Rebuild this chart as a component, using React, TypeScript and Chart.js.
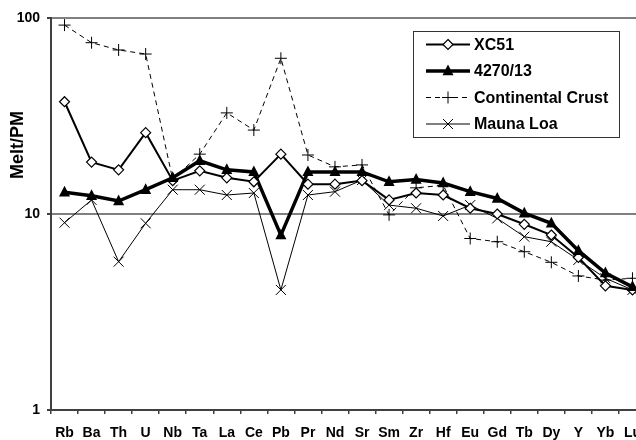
import React, { useEffect, useRef } from 'react';
import { Chart, registerables } from 'chart.js';

Chart.register(...registerables);

const categories = ['Rb', 'Ba', 'Th', 'U', 'Nb', 'Ta', 'La', 'Ce', 'Pb', 'Pr', 'Nd', 'Sr', 'Sm', 'Zr', 'Hf', 'Eu', 'Gd', 'Tb', 'Dy', 'Y', 'Yb', 'Lu'];

const xc51 = [37.4, 18.4, 16.8, 26.0, 14.8, 16.6, 15.3, 14.6, 20.2, 14.2, 14.2, 14.8, 11.8, 12.8, 12.5, 10.7, 10.0, 8.86, 7.81, 6.0, 4.3, 4.1];
const s4270 = [12.9, 12.4, 11.65, 13.3, 15.3, 18.7, 16.8, 16.4, 7.8, 16.4, 16.4, 16.4, 14.6, 15.0, 14.4, 13.0, 12.0, 10.1, 8.97, 6.5, 5.0, 4.25];
const crust = [92, 74.8, 68.7, 65.5, 15.0, 20.2, 32.8, 26.8, 62.3, 20.0, 17.4, 17.8, 9.9, 13.6, 14.0, 7.5, 7.22, 6.42, 5.67, 4.83, 4.6, 4.7];
const maunaLoa = [9.03, 11.8, 5.71, 8.97, 13.3, 13.3, 12.5, 12.8, 4.1, 12.5, 13.0, 14.9, 11.1, 10.7, 9.77, 11.1, 9.5, 7.66, 7.22, 5.83, 4.7, 4.1];

const yTickValues = [1, 10, 100];
const seriesNames = ['XC51', '4270/13', 'Continental Crust', 'Mauna Loa'];
const yTitle = 'Melt/PM';

const FONT = "'Liberation Sans', Arial, Helvetica, sans-serif";

type MarkerKind = 'diamond' | 'triangle' | 'plus' | 'x';

function drawMarker(ctx: CanvasRenderingContext2D, kind: MarkerKind, x: number, y: number) {
  ctx.save();
  ctx.setLineDash([]);
  ctx.strokeStyle = '#000';
  ctx.beginPath();
  if (kind === 'diamond') {
    const r = 5;
    ctx.moveTo(x, y - r);
    ctx.lineTo(x + r, y);
    ctx.lineTo(x, y + r);
    ctx.lineTo(x - r, y);
    ctx.closePath();
    ctx.fillStyle = '#fff';
    ctx.fill();
    ctx.lineWidth = 1.2;
    ctx.stroke();
  } else if (kind === 'triangle') {
    const r = 6.5;
    ctx.moveTo(x, y - r);
    ctx.lineTo(x + r * 0.85, y + r * 0.65);
    ctx.lineTo(x - r * 0.85, y + r * 0.65);
    ctx.closePath();
    ctx.fillStyle = '#000';
    ctx.fill();
  } else if (kind === 'plus') {
    const r = 6;
    ctx.moveTo(x - r, y);
    ctx.lineTo(x + r, y);
    ctx.moveTo(x, y - r);
    ctx.lineTo(x, y + r);
    ctx.lineWidth = 1;
    ctx.stroke();
  } else {
    const r = 5;
    ctx.moveTo(x - r, y - r);
    ctx.lineTo(x + r, y + r);
    ctx.moveTo(x + r, y - r);
    ctx.lineTo(x - r, y + r);
    ctx.lineWidth = 1;
    ctx.stroke();
  }
  ctx.restore();
}

const legendPlugin = {
  id: 'customLegend',
  afterDraw(chart: any) {
    const ctx: CanvasRenderingContext2D = chart.ctx;
    ctx.save();
    const bx = 413.5, by = 31.5, bw = 206, bh = 106;
    ctx.fillStyle = '#fff';
    ctx.fillRect(bx, by, bw, bh);
    ctx.strokeStyle = '#333';
    ctx.lineWidth = 1;
    ctx.strokeRect(bx, by, bw, bh);
    const rows = [44.5, 71, 97.5, 124];
    const kinds: MarkerKind[] = ['diamond', 'triangle', 'plus', 'x'];
    const widths = [2, 3.5, 1, 1];
    const dashes = [[], [], [5, 4], []];
    rows.forEach((ry, i) => {
      ctx.save();
      ctx.strokeStyle = '#000';
      ctx.lineWidth = widths[i];
      ctx.setLineDash(dashes[i]);
      ctx.beginPath();
      ctx.moveTo(426, ry);
      ctx.lineTo(470, ry);
      ctx.stroke();
      ctx.restore();
      drawMarker(ctx, kinds[i], 448, ry);
      ctx.fillStyle = '#000';
      ctx.font = `bold 16px ${FONT}`;
      ctx.textBaseline = 'middle';
      ctx.textAlign = 'left';
      ctx.fillText(seriesNames[i], 474, ry + 1);
    });
    // y axis title
    ctx.save();
    ctx.translate(18, 145);
    ctx.rotate(-Math.PI / 2);
    ctx.font = `bold 18px ${FONT}`;
    ctx.textAlign = 'center';
    ctx.textBaseline = 'middle';
    ctx.fillStyle = '#000';
    ctx.fillText(yTitle, 0, 0);
    ctx.restore();
    ctx.restore();
  },
};

const markerPlugin = {
  id: 'customMarkers',
  afterDatasetsDraw(chart: any) {
    const ctx: CanvasRenderingContext2D = chart.ctx;
    const kinds: MarkerKind[] = ['diamond', 'triangle', 'plus', 'x'];
    const drawOrder = [3, 2, 0, 1];
    drawOrder.forEach((di) => {
      const meta = chart.getDatasetMeta(di);
      meta.data.forEach((pt: any) => {
        drawMarker(ctx, kinds[di], pt.x, pt.y);
      });
    });
  },
};

export default function App() {
  const ref = useRef<HTMLCanvasElement | null>(null);

  useEffect(() => {
    if (!ref.current) return;
    const chart = new Chart(ref.current, {
      type: 'line',
      data: {
        labels: categories,
        datasets: [
          {
            label: seriesNames[0],
            data: xc51,
            borderColor: '#000',
            borderWidth: 2,
            pointRadius: 0,
            tension: 0,
            order: 2,
          },
          {
            label: seriesNames[1],
            data: s4270,
            borderColor: '#000',
            borderWidth: 3.5,
            pointRadius: 0,
            tension: 0,
            order: 1,
          },
          {
            label: seriesNames[2],
            data: crust,
            borderColor: '#000',
            borderWidth: 1,
            borderDash: [5, 4],
            pointRadius: 0,
            tension: 0,
            order: 3,
          },
          {
            label: seriesNames[3],
            data: maunaLoa,
            borderColor: '#000',
            borderWidth: 1,
            pointRadius: 0,
            tension: 0,
            order: 4,
          },
        ],
      },
      options: {
        animation: false,
        responsive: false,
        devicePixelRatio: 1,
        layout: { padding: { top: 18, right: 14, left: 0, bottom: 0 } },
        plugins: {
          legend: { display: false },
          tooltip: { enabled: false },
          title: { display: false },
        },
        scales: {
          x: {
            type: 'category',
            offset: true,
            grid: {
              offset: true,
              drawOnChartArea: false,
              color: '#404040',
              lineWidth: 1.5,
              tickLength: 4,
            },
            border: { color: '#404040', width: 2 },
            ticks: {
              color: '#000',
              font: { family: FONT, size: 14, weight: 'bold' },
              padding: 11,
              maxRotation: 0,
              autoSkip: false,
            },
            afterFit: (s: any) => {
              s.height = 30;
            },
          },
          y: {
            type: 'logarithmic',
            min: 1,
            max: 100,
            afterBuildTicks: (s: any) => {
              s.ticks = yTickValues.map((v) => ({ value: v }));
            },
            ticks: {
              color: '#000',
              font: { family: FONT, size: 14, weight: 'bold' },
              padding: 7,
              callback: (v: any) => String(v),
            },
            grid: {
              color: '#808080',
              lineWidth: 2,
              tickLength: 4,
              tickColor: '#404040',
            },
            border: { color: '#404040', width: 2 },
            afterFit: (s: any) => {
              s.width = 51;
            },
          },
        },
      },
      plugins: [markerPlugin, legendPlugin],
    } as any);
    return () => chart.destroy();
  }, []);

  return (
    <div
      style={{
        position: 'fixed',
        left: 0,
        top: 0,
        width: 636,
        height: 440,
        overflow: 'hidden',
        background: '#fff',
      }}
    >
      <canvas ref={ref} width={660} height={440} style={{ display: 'block', width: 660, height: 440 }} />
    </div>
  );
}
